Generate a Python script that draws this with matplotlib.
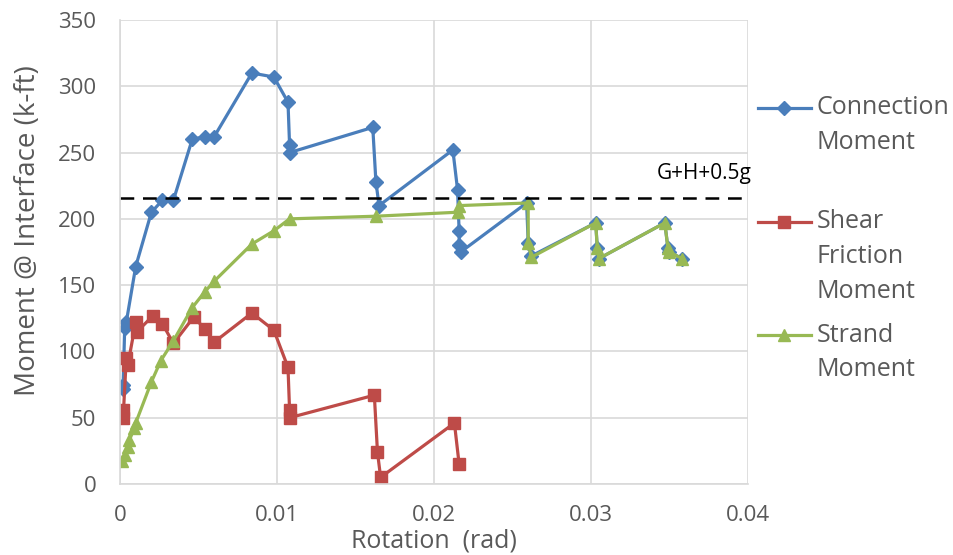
import numpy as np
import matplotlib
matplotlib.use('Agg')
import matplotlib.pyplot as plt
from matplotlib.lines import Line2D

plt.rcParams['font.family'] = ['Open Sans', 'DejaVu Sans']

# connection moment (blue diamonds)
conn_x = [0.0002, 0.0002, 0.0003, 0.0004, 0.0010, 0.0020, 0.0027, 0.0034, 0.0046, 0.0054,
          0.0060, 0.0084, 0.0098, 0.0107, 0.0108, 0.0108, 0.0161, 0.0163, 0.0165, 0.0212,
          0.0215, 0.0216, 0.0216, 0.0217, 0.0259, 0.0260, 0.0262, 0.0303, 0.0304, 0.0305,
          0.0347, 0.0349, 0.0350, 0.0358]
conn_y = [72, 75, 118, 122, 164, 205, 214, 214, 260, 262,
          262, 310, 307, 288, 256, 250, 269, 228, 210, 252,
          222, 191, 180, 175, 212, 182, 172, 197, 178, 170,
          197, 178, 175, 170]

# shear friction moment (red squares)
shear_x = [0.0002, 0.0002, 0.0004, 0.0005, 0.0010, 0.0011, 0.0021, 0.0027, 0.0034, 0.0047,
           0.0054, 0.0060, 0.0084, 0.0098, 0.0107, 0.0108, 0.0108, 0.0162, 0.0164, 0.0166,
           0.0213, 0.0216]
shear_y = [56, 50, 95, 90, 122, 115, 127, 121, 106, 126,
           117, 107, 129, 116, 88, 56, 50, 67, 24, 5,
           46, 15]

# strand moment (green triangles)
strand_x = [0.0001, 0.0003, 0.0005, 0.0006, 0.0009, 0.0010, 0.0020, 0.0026, 0.0034, 0.0046,
            0.0054, 0.0060, 0.0084, 0.0098, 0.0108, 0.0163, 0.0215, 0.0216, 0.0260, 0.0260,
            0.0262, 0.0303, 0.0304, 0.0305, 0.0347, 0.0349, 0.0350, 0.0358]
strand_y = [17, 22, 28, 33, 42, 46, 77, 93, 108, 133,
            145, 153, 181, 191, 200, 202, 205, 210, 212, 182,
            171, 197, 178, 170, 197, 178, 175, 170]

limit_y = 216
limit_label = 'G+H+0.5g'

series = [
    (['Connection', 'Moment'], conn_x, conn_y, '#4A7EBB', 'D', 7.5),
    (['Shear', 'Friction', 'Moment'], shear_x, shear_y, '#BE4B48', 's', 9),
    (['Strand', 'Moment'], strand_x, strand_y, '#98B954', '^', 9),
]

grey = '#595959'
fig = plt.figure(figsize=(9.54, 5.55), dpi=100)
ax = fig.add_axes([120 / 954, 1 - 484 / 555, 628 / 954, 464 / 555])

for label, x, y, c, m, ms in series:
    ax.plot(x, y, color=c, lw=2.3, marker=m, ms=ms, mec=c, mfc=c)

ax.axhline(limit_y, color='black', lw=1.8, ls=(0, (5.5, 3.5)))
ax.text(0.0342, 234, limit_label, fontsize=15, color='black', va='center', ha='left')

ax.set_xlim(0, 0.04)
ax.set_ylim(0, 350)
ax.set_xticks(np.arange(0, 0.041, 0.01))
ax.set_xticklabels(['0', '0.01', '0.02', '0.03', '0.04'])
ax.set_yticks(np.arange(0, 351, 50))
ax.grid(True, color='#D9D9D9', lw=1.2)
ax.set_axisbelow(True)
for s in ['top', 'right']:
    ax.spines[s].set_visible(False)
for s in ['left', 'bottom']:
    ax.spines[s].set_color('#D9D9D9')
    ax.spines[s].set_linewidth(1.2)
ax.tick_params(length=0, labelsize=16, labelcolor=grey)
ax.tick_params(axis='x', pad=15)
ax.tick_params(axis='y', pad=17)

ax.set_xlabel('Rotation  (rad)', fontsize=18, color=grey, va='center')
ax.xaxis.set_label_coords(0.5, -0.123)
ax.set_ylabel('Moment @ Interface (k-ft)', fontsize=20, color=grey, va='center')
ax.yaxis.set_label_coords(-0.146, 0.547)

# legend drawn by hand so handles line up with the first text line
leg_rows = [108, 222, 335]
line_step = 34.7
for (label, x, y, c, m, ms), row in zip(series, leg_rows):
    yf = 1 - row / 555
    fig.add_artist(Line2D([758 / 954, 811 / 954], [yf, yf], color=c, lw=2.3))
    fig.add_artist(Line2D([784.5 / 954], [yf], color=c, marker=m, ms=ms, mec=c, mfc=c))
    for i, word in enumerate(label):
        fig.text(817 / 954, 1 - (row + i * line_step) / 555, word, fontsize=18,
                 color=grey, va='center', ha='left')

fig.savefig('out.png', dpi=100)
